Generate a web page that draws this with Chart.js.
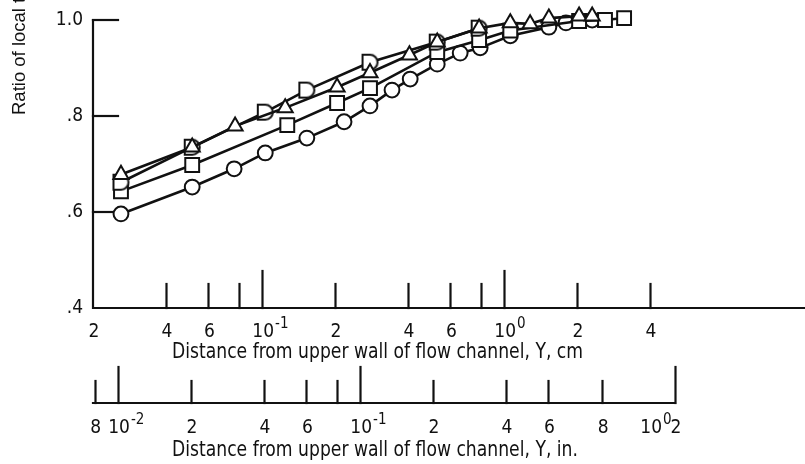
<!DOCTYPE html>
<html>
<head>
<meta charset="utf-8">
<script src="https://cdn.jsdelivr.net/npm/chart.js@4.4.1/dist/chart.umd.min.js"></script>
<style>
html, body { margin: 0; padding: 0; background: #fff; }
</style>
</head>
<body>
<canvas id="flowChart" width="805" height="464"></canvas>
<script>
// Velocity ratio vs distance from upper wall (log x, cm)
const triX = [0.0261, 0.0514, 0.0773, 0.1245, 0.204, 0.279, 0.406, 0.529, 0.788, 1.06, 1.28, 1.53, 2.04, 2.31];
const triY = [0.678, 0.735, 0.779, 0.817, 0.860, 0.890, 0.927, 0.954, 0.983, 0.994, 0.992, 1.004, 1.008, 1.008];
const dX = [0.0261, 0.0514, 0.103, 0.153, 0.279, 0.529, 0.788];
const dY = [0.662, 0.735, 0.808, 0.854, 0.912, 0.954, 0.983];
const sqX = [0.0261, 0.0514, 0.127, 0.204, 0.279, 0.529, 0.788, 1.06, 2.04, 2.61, 3.13];
const sqY = [0.643, 0.698, 0.781, 0.827, 0.858, 0.933, 0.958, 0.978, 0.998, 1.0, 1.004];
const cirX = [0.0261, 0.0514, 0.0766, 0.103, 0.153, 0.218, 0.279, 0.344, 0.409, 0.529, 0.658, 0.796, 1.06, 1.53, 1.80, 2.31];
const cirY = [0.596, 0.652, 0.690, 0.723, 0.754, 0.788, 0.821, 0.854, 0.877, 0.908, 0.931, 0.942, 0.967, 0.985, 0.994, 1.0];

// axis ticks and labels
const yTicks = [0.4, 0.6, 0.8, 1.0];
const yLabels = ['.4', '.6', '.8', '1.0'];
const cmTicks = [0.04, 0.06, 0.08, 0.1, 0.2, 0.4, 0.6, 0.8, 1, 2, 4];
const cmMajor = [0.1, 1];
const cmLabelVals = [0.02, 0.04, 0.06, 0.1, 0.2, 0.4, 0.6, 1, 2, 4];
const cmLabels = ['2', '4', '6', '10^-1', '2', '4', '6', '10^0', '2', '4'];
const inTicks = [0.008, 0.01, 0.02, 0.04, 0.06, 0.08, 0.1, 0.2, 0.4, 0.6, 1, 2];
const inMajor = [0.01, 0.1, 2];
const inLabelVals = [0.008, 0.01, 0.02, 0.04, 0.06, 0.1, 0.2, 0.4, 0.6, 1, 1.58, 2];
const inLabels = ['8', '10^-2', '2', '4', '6', '10^-1', '2', '4', '6', '8', '10^0', '2'];
const CM_PER_IN = 2.54;

const yTitle = 'Ratio of local to free-stream velocity';
const cmTitle = 'Distance from upper wall of flow channel, Y, cm';
const inTitle = 'Distance from upper wall of flow channel, Y, in.';

const FONT_FAM = '"Liberation Sans Narrow", "DejaVu Sans Condensed", "Liberation Sans", sans-serif';
const TICK_FONT = '19px ' + FONT_FAM;
const SUP_FONT = '15px ' + FONT_FAM;
const TITLE_FONT = '21px ' + FONT_FAM;
const INK = '#111';

function pts(xs, ys) {
    return xs.map((x, i) => ({ x: x, y: ys[i] }));
}

// "D" shaped marker (flat left, round right)
function makeDMarker() {
    const c = document.createElement('canvas');
    c.width = 19; c.height = 19;
    const g = c.getContext('2d');
    g.lineWidth = 2;
    g.strokeStyle = INK;
    g.fillStyle = '#fff';
    g.beginPath();
    g.moveTo(2, 2);
    g.lineTo(9.5, 2);
    g.arc(9.5, 9.5, 7.5, -Math.PI / 2, Math.PI / 2);
    g.lineTo(2, 17);
    g.closePath();
    g.fill();
    g.stroke();
    return c;
}

function drawLabel(ctx, text, x, y) {
    const parts = text.split('^');
    ctx.font = TICK_FONT;
    ctx.textAlign = 'center';
    ctx.textBaseline = 'middle';
    ctx.fillText(parts[0], x, y);
    if (parts.length > 1) {
        const w = ctx.measureText(parts[0]).width;
        ctx.font = SUP_FONT;
        ctx.textAlign = 'left';
        ctx.fillText(parts[1], x + w / 2 + 1, y - 8);
    }
}

// narrow lettering: squeeze text horizontally
function drawNarrow(ctx, text, x, y, sx) {
    ctx.save();
    ctx.translate(x, y);
    ctx.scale(sx, 1);
    ctx.fillText(text, 0, 0);
    ctx.restore();
}

const axesPlugin = {
    id: 'oldAxes',
    beforeDatasetsDraw(chart) {
        const ctx = chart.ctx;
        const xs = chart.scales.x;
        const ys = chart.scales.y;
        const area = chart.chartArea;
        const inY = 403;
        ctx.save();
        ctx.strokeStyle = INK;
        ctx.fillStyle = INK;
        ctx.lineWidth = 2.2;
        ctx.lineCap = 'square';

        // y axis + cm axis lines
        ctx.beginPath();
        ctx.moveTo(area.left, area.top);
        ctx.lineTo(area.left, area.bottom);
        ctx.lineTo(area.right, area.bottom);
        ctx.stroke();

        // inward y ticks
        yTicks.forEach((v, i) => {
            const py = ys.getPixelForValue(v);
            if (v > 0.4) {
                ctx.beginPath();
                ctx.moveTo(area.left, py);
                ctx.lineTo(area.left + 25, py);
                ctx.stroke();
            }
            ctx.font = TICK_FONT;
            ctx.textAlign = 'right';
            ctx.textBaseline = 'middle';
            ctx.fillText(yLabels[i], area.left - 10, py);
        });

        // cm ticks, pointing up
        cmTicks.forEach(v => {
            const px = Math.round(xs.getPixelForValue(v)) + 0.5;
            const len = cmMajor.includes(v) ? 37 : 24;
            ctx.beginPath();
            ctx.moveTo(px, area.bottom);
            ctx.lineTo(px, area.bottom - len);
            ctx.stroke();
        });
        cmLabelVals.forEach((v, i) => {
            drawLabel(ctx, cmLabels[i], xs.getPixelForValue(v) + 1, 332);
        });

        // inch axis
        const inLeft = area.left;
        const inRight = xs.getPixelForValue(inTicks[inTicks.length - 1] * CM_PER_IN);
        ctx.beginPath();
        ctx.moveTo(inLeft, inY);
        ctx.lineTo(inRight, inY);
        ctx.stroke();
        inTicks.forEach(v => {
            const px = Math.round(xs.getPixelForValue(v * CM_PER_IN)) + 0.5;
            const len = inMajor.includes(v) ? 36 : 22;
            ctx.beginPath();
            ctx.moveTo(px, inY);
            ctx.lineTo(px, inY - len);
            ctx.stroke();
        });
        inLabelVals.forEach((v, i) => {
            drawLabel(ctx, inLabels[i], xs.getPixelForValue(v * CM_PER_IN) + 1, 428);
        });

        // titles
        ctx.font = TITLE_FONT;
        ctx.textAlign = 'left';
        ctx.textBaseline = 'middle';
        const tw = ctx.measureText(cmTitle).width;
        const sx = 411 / tw;
        drawNarrow(ctx, cmTitle, 172, 353, sx);
        drawNarrow(ctx, inTitle, 172, 451, sx);

        ctx.translate(20, 115);
        ctx.rotate(-Math.PI / 2);
        ctx.font = '18.5px "Liberation Sans", Arial, sans-serif';
        ctx.fillText(yTitle, 0, 0);
        ctx.restore();
    }
};

const common = {
    borderColor: INK,
    borderWidth: 2.6,
    pointBackgroundColor: '#fff',
    pointBorderColor: INK,
    pointBorderWidth: 2,
    tension: 0,
    fill: false,
    clip: false
};

const ctx = document.getElementById('flowChart').getContext('2d');
new Chart(ctx, {
    type: 'line',
    data: {
        datasets: [
            Object.assign({ label: 'triangle', data: pts(triX, triY), pointStyle: 'triangle', pointRadius: 8.7 }, common),
            Object.assign({ label: 'D', data: pts(dX, dY), pointStyle: makeDMarker(), pointRadius: 8 }, common),
            Object.assign({ label: 'square', data: pts(sqX, sqY), pointStyle: 'rect', pointRadius: 9.8 }, common),
            Object.assign({ label: 'circle', data: pts(cirX, cirY), pointStyle: 'circle', pointRadius: 7.4 }, common)
        ]
    },
    options: {
        responsive: false,
        animation: false,
        events: [],
        layout: { autoPadding: false, padding: { left: 93, right: 0, top: 20, bottom: 156 } },
        scales: {
            x: { type: 'logarithmic', min: 0.02, max: 17.5, display: false },
            y: { min: 0.4, max: 1.0, display: false }
        },
        plugins: {
            legend: { display: false },
            tooltip: { enabled: false }
        }
    },
    plugins: [axesPlugin]
});
</script>
</body>
</html>
